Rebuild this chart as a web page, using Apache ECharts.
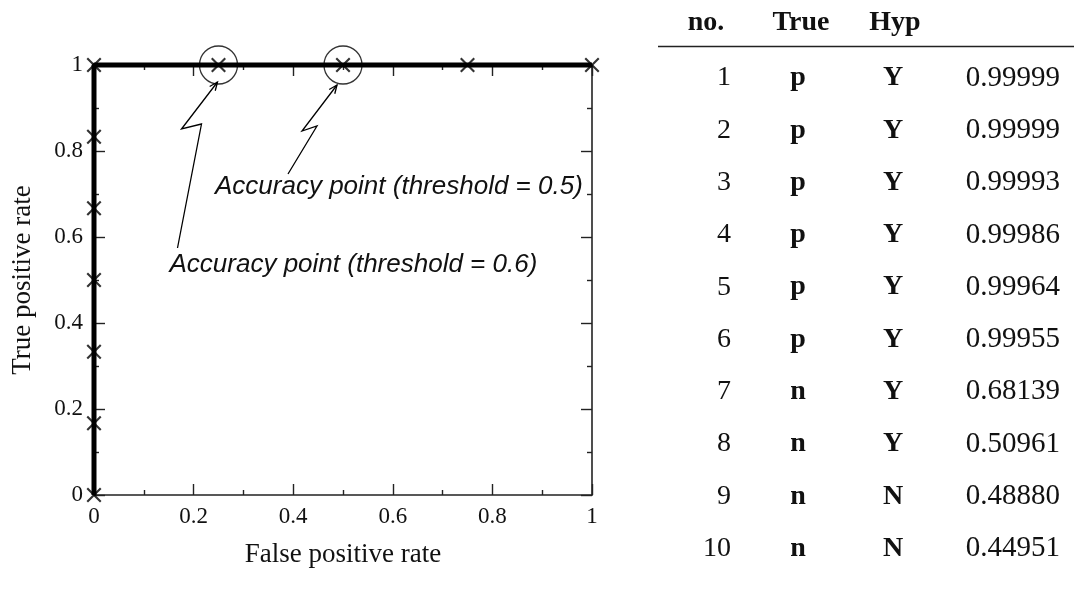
<!DOCTYPE html>
<html><head><meta charset="utf-8">
<script src="https://cdn.jsdelivr.net/npm/echarts@6/dist/echarts.min.js"></script>
<style>html,body{margin:0;padding:0;background:#fff}#c{width:1074px;height:592px}</style>
</head><body><div id="c"></div>
<script>
// ---- data ----
const fprValues = [0, 0, 0, 0, 0, 0, 0, 0.25, 0.5, 0.75, 1];
const tprValues = [0, 0.1667, 0.3333, 0.5, 0.6667, 0.8333, 1, 1, 1, 1, 1];
const accuracyFpr = [0.25, 0.5];
const accuracyTpr = [1, 1];
const accuracyLabels = ['Accuracy point (threshold = 0.6)', 'Accuracy point (threshold = 0.5)'];
const xAxisName = 'False positive rate';
const yAxisName = 'True positive rate';
const tableHeaders = ['no.', 'True', 'Hyp'];
const instanceNo = ['1', '2', '3', '4', '5', '6', '7', '8', '9', '10'];
const trueClass = ['p', 'p', 'p', 'p', 'p', 'p', 'n', 'n', 'n', 'n'];
const hypClass = ['Y', 'Y', 'Y', 'Y', 'Y', 'Y', 'Y', 'Y', 'N', 'N'];
const scores = ['0.99999', '0.99999', '0.99993', '0.99986', '0.99964', '0.99955', '0.68139', '0.50961', '0.48880', '0.44951'];

// ---- layout / style ----
const SERIF = '"Liberation Serif", "Times New Roman", serif';
const SANS = '"Liberation Sans", Arial, sans-serif';
const annLayout = [
  { tail: [-41, 183], knee: [-17, 59], zag: [-37, 64], tip: [-1, 17], text: [-49, 200] },
  { tail: [-55, 109], knee: [-26, 61], zag: [-41, 66], tip: [-6, 20], text: [-128, 122] }
];

const chart = echarts.init(document.getElementById('c'), null, { renderer: 'canvas' });

function mkAxis(pos, isX, showLabel) {
  return {
    type: 'value', position: pos, min: 0, max: 1, interval: 0.2,
    name: showLabel ? (isX ? xAxisName : yAxisName) : '',
    nameLocation: 'middle',
    nameGap: isX ? 46 : 58,
    nameTextStyle: { fontFamily: SERIF, fontSize: 27, color: '#111' },
    axisLine: { show: true, onZero: false, lineStyle: { color: '#222', width: 1.6 } },
    axisTick: { show: true, inside: true, length: 11, lineStyle: { color: '#222', width: 1.4 } },
    minorTick: { show: true, splitNumber: 2, length: 5, lineStyle: { color: '#222', width: 1.4 } },
    axisLabel: { show: showLabel, margin: isX ? 10 : 11, fontFamily: SERIF, fontSize: 23, color: '#111' },
    splitLine: { show: false }
  };
}

const xSym = 'path://M0,1L1,0L5,4L9,0L10,1L6,5L10,9L9,10L5,6L1,10L0,9L4,5Z';

chart.setOption({
  animation: false,
  backgroundColor: '#fff',
  grid: { left: 94, right: 482, top: 65, bottom: 97, containLabel: false },
  xAxis: [mkAxis('bottom', true, true), mkAxis('top', true, false)],
  yAxis: [mkAxis('left', false, true), mkAxis('right', false, false)],
  series: [
    {
      type: 'line', data: fprValues.map((v, i) => [v, tprValues[i]]),
      showSymbol: false, clip: false,
      lineStyle: { color: '#000', width: 5 }, z: 3
    },
    {
      type: 'scatter', data: fprValues.map((v, i) => [v, tprValues[i]]),
      symbol: xSym, symbolSize: 15, clip: false,
      itemStyle: { color: '#000' }, z: 4
    },
    {
      type: 'scatter', data: accuracyFpr.map((v, i) => [v, accuracyTpr[i]]),
      symbol: 'circle', symbolSize: 38, clip: false,
      itemStyle: { color: 'rgba(0,0,0,0)', borderColor: '#000', borderWidth: 1.3 }, z: 5
    }
  ]
});

const graphics = [];
// annotations
accuracyFpr.forEach((fx, i) => {
  const c = chart.convertToPixel({ xAxisIndex: 0, yAxisIndex: 0 }, [fx, accuracyTpr[i]]);
  const L = annLayout[i];
  const P = k => [c[0] + L[k][0], c[1] + L[k][1]];
  const tip = P('tip'), zag = P('zag');
  graphics.push({ type: 'polyline', shape: { points: [P('tail'), P('knee'), zag, tip] },
    style: { stroke: '#000', lineWidth: 1.3, fill: null }, z: 10 });
  const ang = Math.atan2(zag[1] - tip[1], zag[0] - tip[0]);
  const hl = 9, ha = 0.4;
  graphics.push({ type: 'polyline', shape: { points: [
      [tip[0] + hl * Math.cos(ang - ha), tip[1] + hl * Math.sin(ang - ha)], tip,
      [tip[0] + hl * Math.cos(ang + ha), tip[1] + hl * Math.sin(ang + ha)] ] },
    style: { stroke: '#000', lineWidth: 1.3, fill: null }, z: 10 });
  graphics.push({ type: 'text', x: c[0] + L.text[0], y: c[1] + L.text[1],
    style: { text: accuracyLabels[i], fontFamily: SANS, fontStyle: 'italic', fontSize: 26,
      fill: '#111', align: 'left', verticalAlign: 'middle' }, z: 10 });
});

// table
const colX = { no: 731, tr: 798, hyp: 893, score: 1060 };
const headerX = [706, 801, 895];
tableHeaders.forEach((h, i) => {
  graphics.push({ type: 'text', x: headerX[i], y: 23,
    style: { text: h, fontFamily: SERIF, fontWeight: 'bold', fontSize: 28, fill: '#111', align: 'center', verticalAlign: 'middle' } });
});
graphics.push({ type: 'line', shape: { x1: 658, y1: 46.5, x2: 1074, y2: 46.5 }, style: { stroke: '#222', lineWidth: 1.5 } });
instanceNo.forEach((n, i) => {
  const y = 78 + i * 52.3;
  graphics.push({ type: 'text', x: colX.no, y, style: { text: n, fontFamily: SERIF, fontSize: 28, fill: '#111', align: 'right', verticalAlign: 'middle' } });
  graphics.push({ type: 'text', x: colX.tr, y, style: { text: trueClass[i], fontFamily: SERIF, fontWeight: 'bold', fontSize: 28, fill: '#111', align: 'center', verticalAlign: 'middle' } });
  graphics.push({ type: 'text', x: colX.hyp, y, style: { text: hypClass[i], fontFamily: SERIF, fontWeight: 'bold', fontSize: 28, fill: '#111', align: 'center', verticalAlign: 'middle' } });
  graphics.push({ type: 'text', x: colX.score, y, style: { text: scores[i], fontFamily: SERIF, fontSize: 29, fill: '#111', align: 'right', verticalAlign: 'middle' } });
});
chart.setOption({ graphic: graphics });
</script></body></html>
